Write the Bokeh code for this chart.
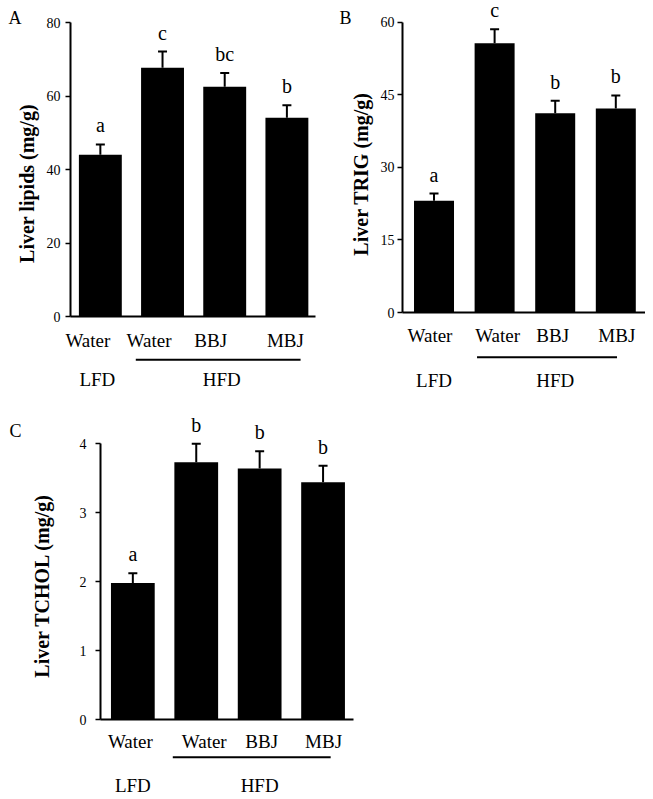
from bokeh.plotting import figure
from bokeh.models import Range1d, FixedTicker, LinearAxis
from bokeh.layouts import column, row
from bokeh.embed import file_html
from bokeh.resources import INLINE
from bokeh.core.properties import value

# ---------------- data ----------------
treatments = ["Water", "Water", "BBJ", "MBJ"]
diets = ["LFD", "HFD", "HFD", "HFD"]

lipids = [44.1, 67.8, 62.6, 54.2]
lipids_err = [2.8, 4.4, 3.8, 3.4]
lipids_sig = ["a", "c", "bc", "b"]
lipids_ticks = [0, 20, 40, 60, 80]

trig = [23.1, 55.7, 41.2, 42.2]
trig_err = [1.5, 2.9, 2.6, 2.7]
trig_sig = ["a", "c", "b", "b"]
trig_ticks = [0, 15, 30, 45, 60]

tchol = [1.98, 3.73, 3.64, 3.44]
tchol_err = [0.14, 0.27, 0.25, 0.24]
tchol_sig = ["a", "b", "b", "b"]
tchol_ticks = [0, 1, 2, 3, 4]

FONT = "Liberation Serif"
NBSP = "\u00a0"


def panel(vals, errs, sig, ticks, ylabel, letter, cfg):
    xs = [i + 1 for i in range(len(vals))]
    W, L, R = cfg["width"], cfg["left"], cfg["right"]
    H, B = cfg["height"], cfg["bottom"]
    fw = W - L - R
    fh = H - B
    xr = Range1d(*cfg["xr"])
    pxy = fh / cfg["y_end"]
    pxx = fw / (cfg["xr"][1] - cfg["xr"][0])

    p = figure(width=W, height=H, x_range=xr, y_range=Range1d(0, cfg["y_end"]),
               min_border_left=L, min_border_right=R, min_border_top=0,
               min_border_bottom=B, toolbar_location=None, tools="",
               output_backend="svg")
    p.xgrid.visible = False
    p.ygrid.visible = False
    p.outline_line_color = None
    p.background_fill_color = "white"

    tops = [v + e for v, e in zip(vals, errs)]
    p.vbar(x=xs, top=vals, bottom=0, width=cfg["bw"], fill_color="black", line_color=None)
    p.segment(xs, vals, xs, tops, line_color="black", line_width=2)
    cw = 4.5 / pxx
    p.segment([x - cw for x in xs], tops, [x + cw for x in xs], tops,
              line_color="black", line_width=2)
    gap = cfg["gap"] / pxy
    p.text(xs, [t + gap for t in tops], text=sig, text_font=value(FONT),
           text_font_size="20px", text_align="center", text_baseline="bottom",
           text_color="black")

    ya = p.yaxis[0]
    ya.ticker = FixedTicker(ticks=ticks)
    ya.bounds = (0, ticks[-1])
    # trailing no-break spaces move the rotated label down to centre it on the 0..max ruler
    ya.axis_label = ylabel + NBSP * cfg["lab_pad"]
    ya.axis_label_text_font = FONT
    ya.axis_label_text_font_size = "20px"
    ya.axis_label_text_font_style = "bold"
    ya.axis_label_text_color = "black"
    ya.axis_label_standoff = cfg["ylab_standoff"]
    ya.major_label_text_font = FONT
    ya.major_label_text_font_size = "14px"
    ya.major_label_text_color = "black"
    ya.major_label_standoff = cfg["ytick_standoff"]
    ya.major_tick_out = 5
    ya.major_tick_in = 0
    ya.minor_tick_out = 0
    ya.minor_tick_in = 0
    ya.axis_line_width = 2
    ya.major_tick_line_width = 1.5

    xa = p.xaxis[0]
    lab_x = [round(x + s / pxx, 4) for x, s in zip(xs, cfg["lab_shift"])]
    xa.ticker = FixedTicker(ticks=lab_x)
    xa.major_label_overrides = {x: t for x, t in zip(lab_x, treatments)}
    xa.major_label_text_font = FONT
    xa.major_label_text_font_size = "19px"
    xa.major_label_text_color = "black"
    xa.major_label_standoff = cfg["xlab_standoff"]
    xa.major_tick_out = 0
    xa.major_tick_in = 0
    xa.minor_tick_out = 0
    xa.minor_tick_in = 0
    xa.axis_line_width = 2

    # panel letter, carried by an outer left axis with a single labelled tick
    ly = round(cfg["y_end"] - cfg["letter_dy"] / pxy, 3)
    la = LinearAxis(ticker=FixedTicker(ticks=[ly]), major_label_overrides={ly: letter},
                    axis_line_color=None, major_tick_line_color=None,
                    minor_tick_line_color=None, major_tick_out=0, major_tick_in=0,
                    minor_tick_out=0, minor_tick_in=0,
                    major_label_standoff=cfg["letter_standoff"],
                    major_label_text_font=FONT, major_label_text_font_size="18px",
                    major_label_text_color="black")
    p.add_layout(la, "left")

    # diet group labels underneath
    gh = cfg["gh"]
    g = figure(width=W, height=gh, x_range=xr, y_range=Range1d(gh, 0),
               min_border_left=L, min_border_right=R, min_border_top=0,
               min_border_bottom=0, toolbar_location=None, tools="",
               x_axis_type=None, y_axis_type=None, output_backend="svg")
    g.xgrid.visible = False
    g.ygrid.visible = False
    g.outline_line_color = None
    names, centers = [], []
    for d in dict.fromkeys(diets):
        idx = [x for x, dd in zip(xs, diets) if dd == d]
        names.append(d)
        centers.append(sum(idx) / len(idx) + cfg["grp_shift"] / pxx)
        if len(idx) > 1:
            g.segment([idx[0] - cfg["ul"][0]], [cfg["ul_y"]], [idx[-1] + cfg["ul"][1]],
                      [cfg["ul_y"]], line_color="black", line_width=2)
    g.text(centers, [cfg["gt_y"]] * len(centers), text=names, text_font=value(FONT),
           text_font_size="19px", text_align="center", text_baseline="middle",
           text_color="black")
    return column(p, g)


cfgA = dict(width=330, left=70, right=15, height=356, bottom=40, xr=(0.52, 4.46),
            y_end=86.13, bw=0.69, ylab_standoff=6, ytick_standoff=5, xlab_standoff=13,
            letter_dy=17, letter_standoff=-9, gap=8, lab_pad=10,
            lab_shift=[-12.5, -13.5, -14, -1.5], grp_shift=-3,
            gh=40, ul=(0.43, 0.22), ul_y=3.3, gt_y=23)
cfgB = dict(width=315, left=72, right=0, height=352, bottom=40, xr=(0.48, 4.49),
            y_end=64.55, bw=0.66, ylab_standoff=6, ytick_standoff=3, xlab_standoff=12,
            letter_dy=18, letter_standoff=-5, gap=8, lab_pad=7,
            lab_shift=[-4, 3, -2.5, 1], grp_shift=0,
            gh=44, ul=(0.29, 0.02), ul_y=4.7, gt_y=28)
cfgC = dict(width=368, left=100, right=15, height=358, bottom=34, xr=(0.49, 4.48),
            y_end=4.684, bw=0.69, ylab_standoff=24, ytick_standoff=9, xlab_standoff=11,
            letter_dy=35, letter_standoff=6, gap=8, lab_pad=11,
            lab_shift=[-2.5, 8, 2, 0.5], grp_shift=0,
            gh=44, ul=(0.37, 0.12), ul_y=2.7, gt_y=30.5)

pA = panel(lipids, lipids_err, lipids_sig, lipids_ticks, "Liver lipids (mg/g)", "A", cfgA)
pB = panel(trig, trig_err, trig_sig, trig_ticks, "Liver TRIG (mg/g)", "B", cfgB)
pC = panel(tchol, tchol_err, tchol_sig, tchol_ticks, "Liver TCHOL (mg/g)", "C", cfgC)

layout = column(row(pA, pB), pC)
open("out.html", "w").write(file_html(layout, INLINE))
